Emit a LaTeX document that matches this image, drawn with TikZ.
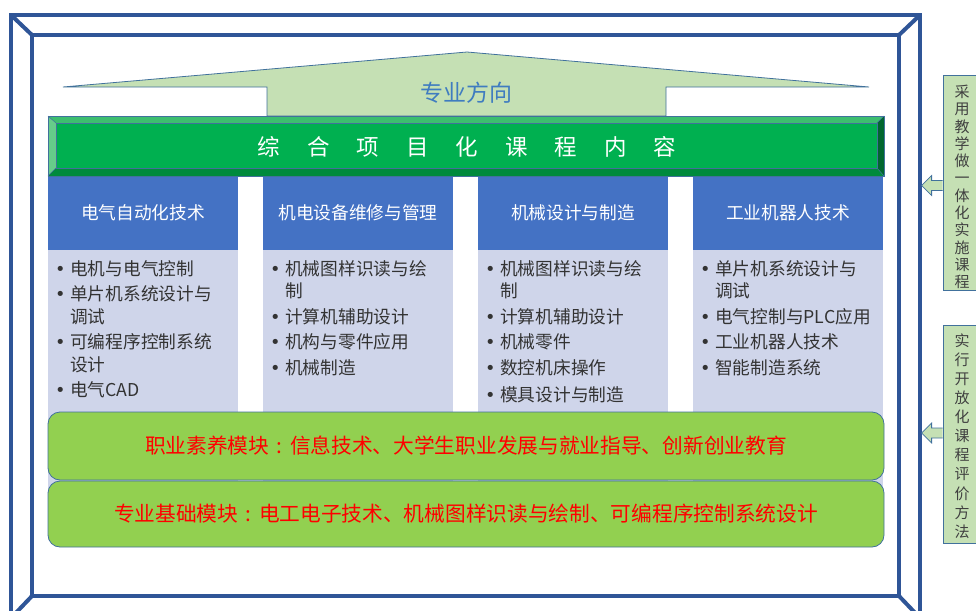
\documentclass[tikz,border=0pt]{standalone}
\usepackage{fontspec}
\setmainfont{Noto Sans CJK SC}
\newfontfamily\dejavu{DejaVu Sans}
\usetikzlibrary{calc}
\definecolor{frameblue}{HTML}{2F5597}
\definecolor{lightgreen}{HTML}{C5E0B4}
\definecolor{hdrblue}{HTML}{4472C4}
\definecolor{lav}{HTML}{CFD5EA}
\definecolor{modgreen}{HTML}{92D050}
\definecolor{edgeblue}{HTML}{41719C}
\definecolor{gmain}{HTML}{00B050}
\definecolor{gtop}{HTML}{3DBE6F}
\definecolor{gleft}{HTML}{66CC8A}
\definecolor{gright}{HTML}{00662E}
\definecolor{gbottom}{HTML}{008A3C}
\definecolor{dirblue}{HTML}{3F7CC0}
\definecolor{itemtext}{HTML}{333333}
\definecolor{sidetext}{HTML}{404040}
\tikzset{
  frameline/.style={draw=frameblue, line width=4pt},
  hdr/.style={fill=hdrblue, minimum width=190pt, minimum height=74pt, inner sep=0pt, text=white, font=\fontsize{17.7}{20}\selectfont},
  bodybox/.style={fill=lav, minimum width=190pt, minimum height=250pt, inner sep=0pt},
  module/.style={fill=modgreen, draw=edgeblue, line width=0.8pt, rounded corners=12pt, minimum width=836pt, inner sep=0pt, text=red, font=\fontsize{20.7}{22}\selectfont},
  itm/.style={anchor=west, inner sep=0pt, text=itemtext, font=\fontsize{17.7}{20}\selectfont},
  sidebox/.style={fill=lightgreen, draw=edgeblue, line width=0.8pt, minimum width=47pt, inner sep=0pt},
  sidearrow/.style={fill=lightgreen, draw=edgeblue, line width=0.8pt},
  sidetxt/.style={align=center, inner sep=0pt, text=sidetext},
}
\newcommand\bitem[4]{\node[itm] (#1) at (#2,#3) {\makebox[15pt][l]{\dejavu •}#4};}
\newcommand\citem[4]{\node[itm] (#1) at (#2+15,#3) {#4};}
\newcommand\fcolon{\makebox[1em][c]{:}}
\begin{document}
\begin{tikzpicture}[x=1pt,y=-1pt]
\useasboundingbox (0,0) rectangle (976,610);
\begin{scope}
\clip (0,0) rectangle (976,610);
% frame
\draw[frameline] (11,15) rectangle (920,618);
\draw[frameline] (32,35) rectangle (899,596);
\draw[frameline] (11,15) -- (32,35);
\draw[frameline] (920,15) -- (899,35);
\draw[frameline] (11,618) -- (32,596);
\draw[frameline] (920,618) -- (899,596);
% big up arrow
\filldraw[fill=lightgreen, draw=edgeblue, line width=0.8pt]
  (63,87) -- (467,52) -- (869,87) -- (666,87) -- (666,116) -- (267,116) -- (267,87) -- cycle;
\node[text=dirblue, font=\fontsize{23}{25}\selectfont, inner sep=0pt] (dir) at (466,93) {专业方向};
% column bodies
\node[bodybox] (b1) at (143,375) {};
\node[bodybox] (b2) at (358,375) {};
\node[bodybox] (b3) at (573,375) {};
\node[bodybox] (b4) at (788,375) {};
% headers
\node[hdr] (h1) at (143,213) {电气自动化技术};
\node[hdr] (h2) at (358,213) {机电设备维修与管理};
\node[hdr] (h3) at (573,213) {机械设计与制造};
\node[hdr] (h4) at (788,213) {工业机器人技术};
% green bevel bar
\fill[gmain] (48,116) rectangle (884,176);
\fill[gtop] (48,116) -- (884,116) -- (877,123) -- (56,123) -- cycle;
\fill[gleft] (48,116) -- (56,123) -- (56,168) -- (48,176) -- cycle;
\fill[gright] (884,116) -- (884,176) -- (877,168) -- (877,123) -- cycle;
\fill[gbottom] (48,176) -- (884,176) -- (877,168) -- (56,168) -- cycle;
\draw[edgeblue, line width=0.7pt] (48,116) rectangle (884,176);
\draw[edgeblue, line width=0.7pt] (56,123) rectangle (877,168);
\draw[edgeblue, line width=0.5pt] (48,116) -- (56,123) (884,116) -- (877,123) (48,176) -- (56,168) (884,176) -- (877,168);
\node[text=white, font=\fontsize{22.5}{24}\selectfont, inner sep=0pt] (bart) at (467,147)
  {综\hspace{27pt}合\hspace{27pt}项\hspace{27pt}目\hspace{27pt}化\hspace{27pt}课\hspace{27pt}程\hspace{27pt}内\hspace{27pt}容};
% items column 1
\bitem{a1}{55}{269}{电机与电气控制}
\bitem{a2}{55}{294}{单片机系统设计与}
\citem{a3}{55}{317}{调试}
\bitem{a4}{55}{342}{可编程序控制系统}
\citem{a5}{55}{365}{设计}
\bitem{a6}{55}{390}{电气CAD}
% column 2
\bitem{c1}{270}{269}{机械图样识读与绘}
\citem{c2}{270}{291}{制}
\bitem{c3}{270}{317}{计算机辅助设计}
\bitem{c4}{270}{342}{机构与零件应用}
\bitem{c5}{270}{368}{机械制造}
% column 3
\bitem{d1}{485}{269}{机械图样识读与绘}
\citem{d2}{485}{291}{制}
\bitem{d3}{485}{317}{计算机辅助设计}
\bitem{d4}{485}{342}{机械零件}
\bitem{d5}{485}{368}{数控机床操作}
\bitem{d6}{485}{395}{模具设计与制造}
% column 4
\bitem{e1}{700}{269}{单片机系统设计与}
\citem{e2}{700}{291}{调试}
\bitem{e3}{700}{317}{电气控制与PLC应用}
\bitem{e4}{700}{342}{工业机器人技术}
\bitem{e5}{700}{368}{智能制造系统}
% modules
\node[module, minimum height=68pt] (m1) at (466,446) {职业素养模块\fcolon 信息技术、大学生职业发展与就业指导、创新创业教育};
\node[module, minimum height=66pt] (m2) at (466,514) {专业基础模块\fcolon 电工电子技术、机械图样识读与绘制、可编程序控制系统设计};
% side boxes
\node[sidebox, minimum height=215pt] (sA) at (966.5,182.5) {};
\node[sidebox, minimum height=218pt] (sB) at (966.5,434) {};
\node[sidetxt, font=\fontsize{15}{17.3}\selectfont] (tA) at (962,187) {采\\用\\教\\学\\做\\一\\体\\化\\实\\施\\课\\程};
\node[sidetxt, font=\fontsize{15}{19.1}\selectfont] (tB) at (962,436) {实\\行\\开\\放\\化\\课\\程\\评\\价\\方\\法};
\coordinate (pA) at ($(sA.west)+(0,3)$);
\coordinate (pB) at ($(sB.west)+(0,-1)$);
\filldraw[sidearrow] (pA) ++(0,-5) -- ++(-11,0) -- ++(0,-5) -- ++(-10,10) -- ++(10,10) -- ++(0,-5) -- ++(11,0);
\filldraw[sidearrow] (pB) ++(0,-5) -- ++(-11,0) -- ++(0,-5) -- ++(-10,10) -- ++(10,10) -- ++(0,-5) -- ++(11,0);
\end{scope}
\end{tikzpicture}
\end{document}
